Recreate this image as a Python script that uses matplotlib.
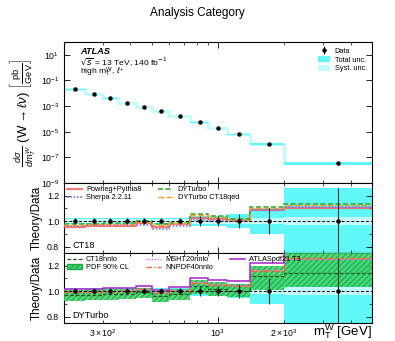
import numpy as np
import matplotlib
matplotlib.use("Agg")
import matplotlib.pyplot as plt
from matplotlib.ticker import FixedLocator, NullLocator, LogFormatterSciNotation, FuncFormatter
from matplotlib.patches import Patch
from matplotlib.lines import Line2D

plt.rcParams['font.family'] = ['Liberation Sans', 'DejaVu Sans']
plt.rcParams['mathtext.fontset'] = 'custom'
plt.rcParams['mathtext.rm'] = 'Liberation Sans'
plt.rcParams['mathtext.it'] = 'Liberation Sans:italic'
plt.rcParams['mathtext.bf'] = 'Liberation Sans:bold'

# bin edges in m_T^W [GeV]
bin_edges = [200, 250, 300, 350, 425, 500, 600, 750, 900, 1100, 1400, 2000, 5000]
# measured differential cross-section [pb/GeV]
xsec = [2.0e-2, 8.7e-3, 4.0e-3, 1.8e-3, 8.5e-4, 3.9e-4, 1.6e-4, 5.4e-5,
        2.1e-5, 6.3e-6, 1.1e-6, 3.5e-8]
# relative uncertainties
rel_total = [0.025, 0.025, 0.025, 0.025, 0.025, 0.025, 0.025, 0.04, 0.04, 0.055, 0.10, 0.26]
rel_syst = [0.015, 0.015, 0.015, 0.015, 0.015, 0.015, 0.015, 0.02, 0.02, 0.02, 0.025, 0.03]

# theory / data, CT18 panel
powheg = [0.955, 0.965, 0.965, 0.965, 0.988, 0.952, 0.975, 1.025, 1.02, 1.01, 1.09, 1.105]
sherpa = [0.962, 0.97, 0.968, 0.968, 0.967, 0.938, 0.962, 1.01, 1.005, 1.0, 1.085, 1.11]
dyturbo = [0.975, 0.98, 0.982, 0.982, 0.998, 0.975, 0.987, 1.055, 1.037, 1.015, 1.108, 1.138]
dyturbo_qed = [0.968, 0.975, 0.977, 0.977, 0.992, 0.97, 0.983, 1.045, 1.03, 1.01, 1.10, 1.13]

# theory / data, DYTurbo panel
ct18nnlo = [0.97, 0.973, 0.975, 0.978, 0.99, 0.96, 0.975, 1.04, 1.02, 1.005, 1.123, 1.145]
pdf_low = [0.925, 0.93, 0.93, 0.935, 0.95, 0.915, 0.93, 0.98, 0.965, 0.955, 1.013, 1.03]
pdf_high = [1.013, 1.015, 1.015, 1.02, 1.024, 1.0, 1.02, 1.085, 1.071, 1.058, 1.2, 1.35]
msht20 = [1.0, 1.003, 1.005, 1.008, 1.02, 0.995, 1.01, 1.07, 1.055, 1.045, 1.17, 1.25]
nnpdf40 = [0.99, 0.995, 0.997, 1.0, 1.015, 0.985, 1.0, 1.065, 1.05, 1.04, 1.16, 1.258]
atlaspdf21 = [1.018, 1.02, 1.022, 1.025, 1.037, 1.013, 1.03, 1.10, 1.085, 1.083, 1.225, 1.4]

edges = np.array(bin_edges, dtype=float)
centers = 0.5 * (edges[:-1] + edges[1:])


def stepvals(v):
    v = np.asarray(v, dtype=float)
    return np.append(v, v[-1])


C_TOT = '#5ff7f7'
C_SYS = '#c4fbfb'
LEG_FS = 5.3

fig = plt.figure(figsize=(3.95, 3.41), dpi=100)
L, W = 64 / 395, 308 / 395
ax0 = fig.add_axes([L, 1 - 183 / 341, W, (183 - 42) / 341])
ax1 = fig.add_axes([L, 1 - 253 / 341, W, 70 / 341], sharex=ax0)
ax2 = fig.add_axes([L, 1 - 323 / 341, W, 70 / 341], sharex=ax0)

# ---- cross-section panel
xs = np.asarray(xsec)
tot = np.asarray(rel_total)
sysu = np.asarray(rel_syst)
ax0.step(edges, stepvals(xs), where='post', color=C_SYS, lw=2.2, zorder=1)
ax0.fill_between(edges, stepvals(xs * (1 - tot)), stepvals(xs * (1 + tot)),
                 step='post', color=C_TOT, lw=0, zorder=2)
ax0.fill_between(edges, stepvals(xs * (1 - sysu)), stepvals(xs * (1 + sysu)),
                 step='post', color=C_SYS, lw=0, zorder=3)
ax0.errorbar(centers, xs, yerr=xs * tot, fmt='o', color='black', ms=2.2,
             elinewidth=0.8, capsize=0, zorder=5)
ax0.set_xscale('log')
ax0.set_yscale('log')
ax0.set_xlim(200, 5000)
ax0.set_ylim(1e-9, 1e2)
ax0.yaxis.set_major_locator(FixedLocator([1e1, 1e-1, 1e-3, 1e-5, 1e-7, 1e-9]))
ax0.yaxis.set_major_formatter(LogFormatterSciNotation())
ax0.yaxis.set_minor_locator(NullLocator())
ax0.set_ylabel(r'$\frac{d\sigma}{dm_{T}^{W}}$ (W$\rightarrow\ell\nu$) $\left[\frac{\mathrm{pb}}{\mathrm{GeV}}\right]$',
               fontsize=9.5, labelpad=2)

ax0.text(0.052, 0.965, 'ATLAS', transform=ax0.transAxes, fontsize=6.6,
         fontweight='bold', fontstyle='italic', va='top')
ax0.text(0.052, 0.905, r'$\sqrt{s}$ = 13 TeV, 140 fb$^{-1}$', transform=ax0.transAxes,
         fontsize=6.1, va='top', math_fontfamily='dejavusans')
ax0.text(0.052, 0.835, r'high m$_{\mathrm{T}}^{\mathrm{W}}$, $\ell^{+}$', transform=ax0.transAxes,
         fontsize=6.1, va='top')

h_data = ax0.errorbar([], [], yerr=[], fmt='o', color='black', ms=2.2, elinewidth=0.8)
h_tot = Patch(facecolor=C_TOT, edgecolor='none')
h_sys = Patch(facecolor=C_SYS, edgecolor='none')
ax0.legend([h_data, h_tot, h_sys], ['Data', 'Total unc.', 'Syst. unc.'],
           loc='upper right', bbox_to_anchor=(1.0, 1.0), fontsize=LEG_FS, frameon=False,
           handlelength=1.7, handleheight=1.0, labelspacing=0.12, borderaxespad=0.5,
           borderpad=0.2, handletextpad=0.6)


def ratio_base(ax):
    ax.fill_between(edges, stepvals(1 - tot), stepvals(1 + tot), step='post',
                    color=C_TOT, lw=0, zorder=1)
    ax.fill_between(edges, stepvals(1 - sysu), stepvals(1 + sysu), step='post',
                    color=C_SYS, lw=0, zorder=2)
    ax.axhline(1.0, color='black', ls=(0, (3, 2)), lw=0.7, zorder=6)
    ax.errorbar(centers, np.ones_like(centers), yerr=tot, fmt='o', color='black',
                ms=2.2, elinewidth=0.8, ecolor='#1a3333', capsize=0, zorder=8)
    ax.set_ylim(0.75, 1.3)
    ax.yaxis.set_major_locator(FixedLocator([0.8, 1.0, 1.2]))
    ax.yaxis.set_major_formatter(FuncFormatter(lambda v, p: f'{v:.1f}'))
    ax.yaxis.set_minor_locator(FixedLocator([0.9, 1.1]))
    ax.set_ylabel('Theory/Data', fontsize=8.4, labelpad=3)


leg_kw = dict(loc='upper left', bbox_to_anchor=(0.0, 1.0), fontsize=LEG_FS,
              frameon=False, handlelength=2.0, labelspacing=0.15, columnspacing=2.3,
              borderaxespad=0.1, borderpad=0.3, handletextpad=0.6)

# ---- CT18 panel
ratio_base(ax1)
ax1.step(edges, stepvals(powheg), where='post', color='#ff5555', lw=1.6, alpha=0.8, zorder=4,
         label='Powheg+Pythia8')
ax1.step(edges, stepvals(sherpa), where='post', color='#7777ff', lw=1.2, ls=(0, (1, 1)),
         zorder=4, label='Sherpa 2.2.11')
ax1.step(edges, stepvals(dyturbo), where='post', color='#33aa33', lw=1.2, ls=(0, (3, 1.5)),
         zorder=5, label='DYTurbo')
ax1.step(edges, stepvals(dyturbo_qed), where='post', color='#ff9922', lw=1.0, ls=(0, (4, 2)),
         zorder=5, label='DYTurbo CT18qed')
ax1.legend(ncol=2, **leg_kw)
ax1.text(0.027, 0.07, 'CT18', transform=ax1.transAxes, fontsize=6.6)

# ---- DYTurbo panel
ratio_base(ax2)
ax2.fill_between(edges, stepvals(pdf_low), stepvals(pdf_high), step='post',
                 facecolor='#3fd46a', edgecolor='#22aa44', hatch='//////', lw=0,
                 alpha=0.85, zorder=3)
ax2.step(edges, stepvals(ct18nnlo), where='post', color='#1d5e1d', lw=0.9, ls=(0, (3, 1.5)),
         zorder=5)
ax2.step(edges, stepvals(msht20), where='post', color='#ff66cc', lw=1.0, ls=(0, (1, 1)),
         zorder=5)
ax2.step(edges, stepvals(nnpdf40), where='post', color='#ff6633', lw=1.0, ls=(0, (4, 1.5, 1, 1.5)),
         zorder=5)
ax2.step(edges, stepvals(atlaspdf21), where='post', color='#aa33cc', lw=1.2, zorder=5)
hdl = [Line2D([], [], color='#1d5e1d', lw=0.9, ls=(0, (3, 1.5))),
       Patch(facecolor='#3fd46a', edgecolor='#22aa44', hatch='//////'),
       Line2D([], [], color='#ff66cc', lw=1.0, ls=(0, (1, 1))),
       Line2D([], [], color='#ff6633', lw=1.0, ls=(0, (4, 1.5, 1, 1.5))),
       Line2D([], [], color='#aa33cc', lw=1.2)]
ax2.legend(hdl, ['CT18nnlo', 'PDF 90% CL', 'MSHT20nnlo', 'NNPDF40nnlo', 'ATLASpdf21 T3'],
           ncol=3, **leg_kw)
ax2.text(0.027, 0.07, 'DYTurbo', transform=ax2.transAxes, fontsize=6.6)

# ---- common axis styling
labelled = {300: r'$3\times10^{2}$', 1000: r'$10^{3}$', 2000: r'$2\times10^{3}$'}


def xfmt(v, p):
    for k, s in labelled.items():
        if abs(v - k) < 1e-6 * k:
            return s
    return ''


for ax in (ax0, ax1, ax2):
    ax.tick_params(which='both', direction='in', top=True, right=True, labelsize=6.3)
    ax.tick_params(which='major', length=4, width=0.6)
    ax.tick_params(which='minor', length=2, width=0.5)
    for s in ax.spines.values():
        s.set_linewidth(0.8)
ax0.tick_params(labelbottom=False)
ax1.tick_params(labelbottom=False)
ax2.xaxis.set_major_formatter(FuncFormatter(xfmt))
ax2.xaxis.set_minor_formatter(FuncFormatter(xfmt))
ax2.tick_params(axis='x', which='both', pad=3)
ax2.set_xlabel(r'm$_{\mathrm{T}}^{\mathrm{W}}$ [GeV]', fontsize=9.5, ha='right', va='bottom')
ax2.xaxis.set_label_coords(1.0, -0.255)

fig.text(0.5, 0.962, 'Analysis Category', fontsize=8.5, ha='center', va='center')

fig.savefig('out.png', dpi=100)
